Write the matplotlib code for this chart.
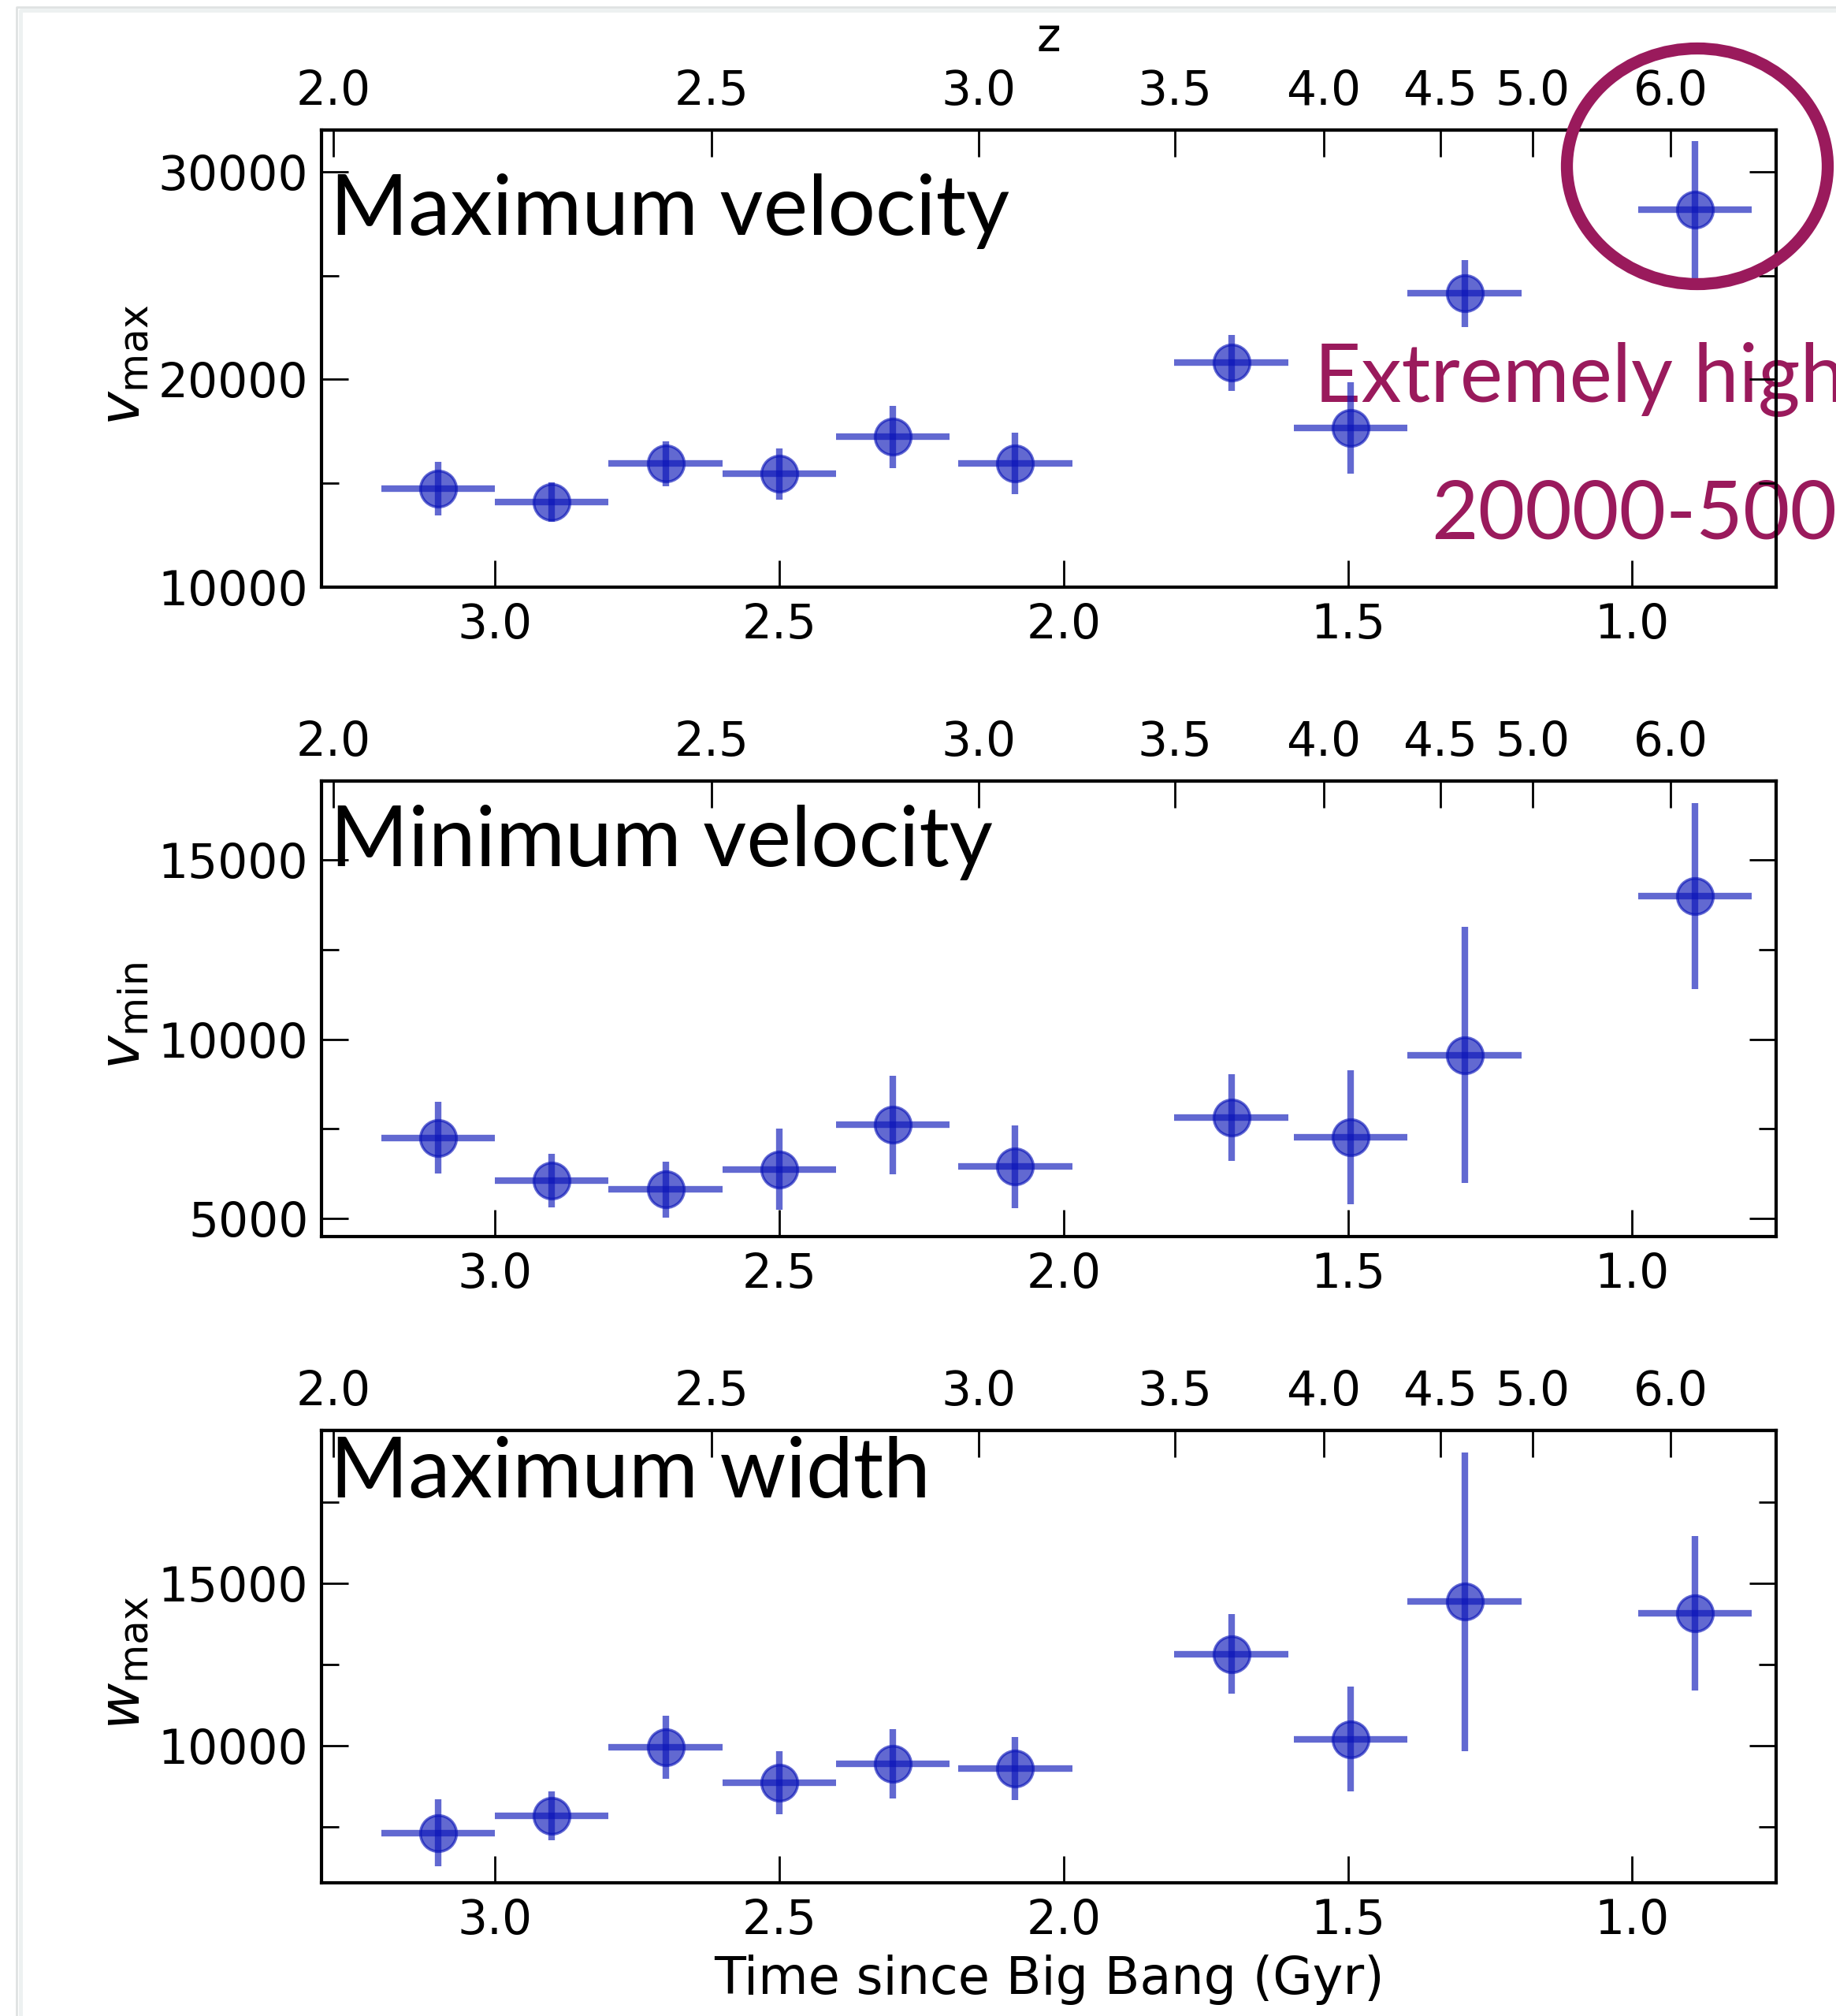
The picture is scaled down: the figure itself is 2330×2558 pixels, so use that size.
import numpy as np
import matplotlib
matplotlib.use("Agg")
import matplotlib.pyplot as plt
from matplotlib.patches import Ellipse
from matplotlib.lines import Line2D
from matplotlib.ticker import MultipleLocator, NullLocator, FormatStrFormatter

W, H = 2330, 2558

# Binned measurements versus cosmic time
time_gyr = [3.1, 2.9, 2.7, 2.5, 2.3, 2.085, 1.705, 1.495, 1.295, 0.89]
time_halfwidth = [0.1, 0.1, 0.1, 0.1, 0.1, 0.1, 0.1, 0.1, 0.1, 0.1]

vmax = [14735, 14090, 15950, 15455, 17235, 15950, 20795, 17650, 24130, 28180]
vmax_err = [1300, 950, 1080, 1230, 1500, 1470, 1350, 2200, 1600, 3300]

vmin = [7250, 6060, 5810, 6370, 7610, 6450, 7820, 7270, 9560, 13990]
vmin_err = [1000, 740, 780, 1130, 1380, 1150, 1210, 1860, 3570, 2600]

wmax = [7310, 7840, 9940, 8870, 9450, 9300, 12820, 10200, 14430, 14070]
wmax_err = [1030, 750, 970, 970, 1070, 970, 1230, 1610, 4600, 2380]

z_ticks = [2.0, 2.5, 3.0, 3.5, 4.0, 4.5, 5.0, 6.0]
time_ticks = [3.0, 2.5, 2.0, 1.5, 1.0]

panel_titles = ["Maximum velocity", "Minimum velocity", "Maximum width"]
panel_ylabels = [r"$v_{\rm max}$", r"$v_{\rm min}$", r"$w_{\rm max}$"]
note_lines = ["Extremely high", "20000-500"]

# Flat LCDM age-redshift relation for the top axis
H0 = 67.7
OM = 0.31
OL = 1.0 - OM
HUBBLE_TIME = 977.8 / H0
A = 2.0 * HUBBLE_TIME / (3.0 * np.sqrt(OL))
B = np.sqrt(OL / OM)


def z_to_t(z):
    z = np.asarray(z, dtype=float)
    return A * np.arcsinh(B * np.clip(1.0 + z, 1e-3, None) ** -1.5)


def t_to_z(t):
    t = np.asarray(t, dtype=float)
    return (B / np.sinh(np.clip(t, 1e-3, None) / A)) ** (2.0 / 3.0) - 1.0


BLUE = "#0a14b8"
PURPLE = "#9a1a5c"

fig = plt.figure(figsize=(W / 100, H / 100), dpi=100)
fig.patch.set_facecolor("white")


def fx(x):
    return x / W


def fy(y):
    return 1.0 - y / H


left_px, right_px = 408, 2254
tops_px = [165, 991, 1815]
bottoms_px = [745, 1569, 2389]
ylims = [(10000, 32000), (4500, 17200), (5780, 19700)]
majors = [10000, 5000, 5000]
minors = [5000, 2500, 2500]
title_base_px = [298, 1099, 1900]
series = [(vmax, vmax_err), (vmin, vmin_err), (wmax, wmax_err)]

for i in range(3):
    rect = [fx(left_px), fy(bottoms_px[i]),
            (right_px - left_px) / W, (bottoms_px[i] - tops_px[i]) / H]
    ax = fig.add_axes(rect)
    ax.patch.set_alpha(0.0)
    y, yerr = series[i]
    ax.errorbar(time_gyr, y, xerr=time_halfwidth, yerr=yerr, fmt="o",
                color=BLUE, alpha=0.64, ms=33, mew=2.5, elinewidth=6,
                capsize=0)
    ax.set_xlim(3.305, 0.747)
    ax.set_ylim(*ylims[i])
    ax.set_xticks(time_ticks)
    ax.xaxis.set_major_formatter(FormatStrFormatter("%.1f"))
    ax.xaxis.set_minor_locator(NullLocator())
    ax.yaxis.set_major_locator(MultipleLocator(majors[i]))
    ax.yaxis.set_minor_locator(MultipleLocator(minors[i]))
    for s in ax.spines.values():
        s.set_linewidth(3)
    ax.tick_params(which="both", direction="in", top=False, right=True,
                   width=2, labelsize=43)
    ax.tick_params(which="major", length=24.5)
    ax.tick_params(which="minor", length=16)
    ax.tick_params(axis="x", pad=14)
    ax.tick_params(axis="y", pad=12)

    ax.set_ylabel(panel_ylabels[i], fontsize=52)
    ax.yaxis.set_label_coords(-0.1167, 0.485)

    sec = ax.secondary_xaxis("top", functions=(t_to_z, z_to_t))
    sec.set_xticks(z_ticks)
    sec.xaxis.set_major_formatter(FormatStrFormatter("%.1f"))
    sec.xaxis.set_minor_locator(NullLocator())
    sec.tick_params(direction="in", length=24.5, width=2, labelsize=43,
                    pad=14)
    sec.spines["top"].set_linewidth(3)
    if i == 0:
        sec.set_xlabel("z", fontsize=42, labelpad=15.5)
    if i == 2:
        ax.set_xlabel("Time since Big Bang (Gyr)", fontsize=47, labelpad=9)

    fig.text(fx(419), fy(title_base_px[i]), panel_titles[i], fontsize=77,
             family="Lato", va="baseline", ha="left", color="black",
             zorder=-1)

# Callout on the highest bin
fig.text(fx(1668), fy(510), note_lines[0], fontsize=74, family="Lato",
         va="baseline", ha="left", color=PURPLE, zorder=-1)
fig.text(fx(1816), fy(684), note_lines[1], fontsize=74, family="Lato",
         va="baseline", ha="left", color=PURPLE, zorder=-1)
fig.add_artist(Ellipse((fx(2154), fy(211)), width=331 / W, height=299 / H,
                       transform=fig.transFigure, fill=False,
                       edgecolor=PURPLE, lw=11, zorder=5))

# Page frame with a faint shadow
fig.add_artist(Line2D([fx(21), fx(21), fx(W + 10)], [fy(H + 10), fy(8.5), fy(8.5)],
                      transform=fig.transFigure, color="#dfe2e2", lw=2.0,
                      zorder=-2))
fig.add_artist(Line2D([fx(25.5), fx(25.5), fx(W + 10)], [fy(H + 10), fy(12.5), fy(12.5)],
                      transform=fig.transFigure, color="#edf1f1", lw=3.5,
                      zorder=-2))

fig.savefig("out.png", dpi=100, facecolor="white")
